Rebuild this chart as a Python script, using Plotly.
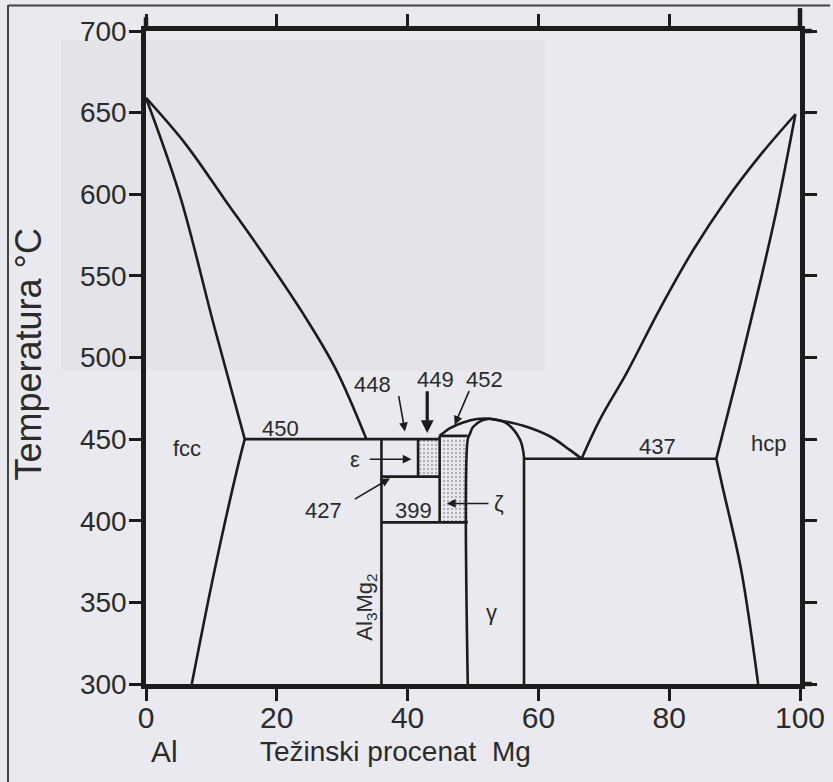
import plotly.graph_objects as go

# ---------------- data (wt% Mg, temperature degC) ----------------
left_liquidus_x = [0, 6, 12, 18, 24, 29, 33.7]
left_liquidus_t = [659, 631, 597, 563, 527, 493, 450]

left_solidus_x = [0, 5.2, 10.3, 15.1]
left_solidus_t = [659, 599, 521, 450]

left_solvus_x = [15.1, 13.9, 10.5, 7.0]
left_solvus_t = [450, 431, 370, 300]

eutectic450_x = [15.1, 44.9]
eutectic450_t = [450, 450]

al3mg2_x = [36.0, 36.0]
al3mg2_t = [450, 300]

eps_right_x = [41.6, 41.6]
eps_right_t = [450, 427]

line427_x = [36.0, 44.9]
line427_t = [427, 427]

zeta_left_x = [44.9, 44.9]
zeta_left_t = [452, 399]

zeta_top_x = [44.9, 49.2]
zeta_top_t = [452, 452]

line399_x = [36.0, 49.2]
line399_t = [399, 399]

gamma_left_x = [49.2, 49.2, 49.5, 50.0, 51.3, 52.6]
gamma_left_t = [300, 450, 453, 457.4, 461.3, 462.5]

gamma_liq_left_x = [44.9, 46.5, 48.5, 50.6, 52.6]
gamma_liq_left_t = [452, 456.8, 460.2, 462.3, 462.5]

gamma_right_x = [52.6, 55.1, 57.2, 57.8]
gamma_right_t = [462.5, 459.8, 449.6, 439]

gamma_right_vert_x = [57.8, 57.8]
gamma_right_vert_t = [439, 300]

gamma_liq_right_x = [52.6, 57.7, 61.8, 64.8, 66.6]
gamma_liq_right_t = [462.5, 458.2, 451.6, 443.4, 438]

eutectic437_x = [57.8, 87.2]
eutectic437_t = [438, 438]

right_liquidus_x = [66.6, 69.4, 73.5, 78.6, 83.7, 88.8, 93.9, 99.3]
right_liquidus_t = [438, 462, 490.6, 530, 566, 597, 623.8, 649]

right_solidus_x = [87.2, 90.8, 93.9, 96.4, 99.3]
right_solidus_t = [438, 494.6, 546, 590, 649]

right_solvus_x = [87.2, 88.2, 91.0, 93.6]
right_solvus_t = [438, 420, 370, 300]

eps_box_x = [41.6, 44.9, 44.9, 41.6, 41.6]
eps_box_t = [450, 450, 427, 427, 450]

zeta_box_x = [44.9, 49.2, 49.2, 44.9, 44.9]
zeta_box_t = [452, 452, 399, 399, 452]

label_text = ["450", "448", "449", "452", "fcc", "hcp", "437", "\u03b5", "427", "399",
              "\u03b6", "\u03b3"]
label_x = [20.5, 34.7, 44.2, 51.8, 6.3, 95.2, 78.2, 32.0, 27.1, 40.9, 53.9, 52.8]
label_t = [456.5, 483.4, 486.6, 486.6, 444.5, 447.5, 445.5, 437.3, 406.5, 406.5, 410.6, 344]

arrow_head_x = [39.6, 43.0, 47.2, 40.6, 37.3, 46.0]
arrow_head_t = [454.7, 453.7, 458.8, 437.7, 426.0, 410.6]
arrow_tail_x = [38.6, 43.0, 49.5, 34.0, 31.7, 52.6]
arrow_tail_t = [477.3, 480.3, 480.3, 437.7, 412.7, 410.6]
arrow_width = [1.6, 3.2, 1.6, 1.6, 1.6, 1.6]

x_ticks = [0, 20, 40, 60, 80, 100]
y_ticks = [300, 350, 400, 450, 500, 550, 600, 650, 700]

# ---------------- styling ----------------
LINE = "#1c1c1c"
TXT = "#2b2b2b"
BG = "#e9e9ef"
FONT = "Liberation Sans, Arial, sans-serif"

fig = go.Figure()

# stippled phase boxes
for bx, bt in [(eps_box_x, eps_box_t), (zeta_box_x, zeta_box_t)]:
    fig.add_trace(go.Scatter(
        x=bx, y=bt, mode="lines", fill="toself", line=dict(width=0),
        fillcolor="rgba(0,0,0,0)",
        fillpattern=dict(shape=".", fgcolor="#707070", bgcolor="rgba(0,0,0,0)",
                         size=4, solidity=0.25),
        hoverinfo="skip", showlegend=False))

curves = [
    (left_liquidus_x, left_liquidus_t, "spline"),
    (left_solidus_x, left_solidus_t, "spline"),
    (left_solvus_x, left_solvus_t, "spline"),
    (eutectic450_x, eutectic450_t, "linear"),
    (al3mg2_x, al3mg2_t, "linear"),
    (eps_right_x, eps_right_t, "linear"),
    (line427_x, line427_t, "linear"),
    (zeta_left_x, zeta_left_t, "linear"),
    (zeta_top_x, zeta_top_t, "linear"),
    (line399_x, line399_t, "linear"),
    (gamma_left_x, gamma_left_t, "spline"),
    (gamma_liq_left_x, gamma_liq_left_t, "spline"),
    (gamma_right_x, gamma_right_t, "spline"),
    (gamma_right_vert_x, gamma_right_vert_t, "linear"),
    (gamma_liq_right_x, gamma_liq_right_t, "spline"),
    (eutectic437_x, eutectic437_t, "linear"),
    (right_liquidus_x, right_liquidus_t, "spline"),
    (right_solidus_x, right_solidus_t, "spline"),
    (right_solvus_x, right_solvus_t, "spline"),
]
for cx, ct, shp in curves:
    fig.add_trace(go.Scatter(x=cx, y=ct, mode="lines",
                             line=dict(color=LINE, width=2.6, shape=shp),
                             hoverinfo="skip", showlegend=False))

annotations = []
for t, lx, lt in zip(label_text, label_x, label_t):
    annotations.append(dict(x=lx, y=lt, xref="x", yref="y", text=t, showarrow=False,
                            xanchor="center", yanchor="middle",
                            font=dict(family=FONT, size=22, color=TXT)))
annotations.append(dict(x=33.7, y=347, xref="x", yref="y",
                        text="Al<sub>3</sub>Mg<sub>2</sub>", textangle=-90,
                        xanchor="center", yanchor="middle",
                        showarrow=False, font=dict(family=FONT, size=22, color=TXT)))
for hx, ht, tx, tt, w in zip(arrow_head_x, arrow_head_t, arrow_tail_x, arrow_tail_t, arrow_width):
    annotations.append(dict(x=hx, y=ht, xref="x", yref="y", ax=tx, ay=tt,
                            axref="x", ayref="y", text="", showarrow=True,
                            arrowhead=2, arrowsize=1.1 if w < 2 else 0.8,
                            arrowwidth=w, arrowcolor=LINE))
# axis titles
annotations.append(dict(x=-0.18, y=0.505, xref="paper", yref="paper",
                        xanchor="center", yanchor="middle",
                        text="Temperatura \u00b0C", textangle=-90, showarrow=False,
                        font=dict(family=FONT, size=36, color=TXT)))
annotations.append(dict(x=0.029, y=-0.104, xref="paper", yref="paper", text="Al",
                        xanchor="center", yanchor="middle",
                        showarrow=False, font=dict(family=FONT, size=30, color=TXT)))
annotations.append(dict(x=0.381, y=-0.104, xref="paper", yref="paper",
                        xanchor="center", yanchor="middle",
                        text="Te\u017einski procenat  Mg", showarrow=False,
                        font=dict(family=FONT, size=28, color=TXT)))

AX = dict(color=LINE, width=4.5)
shapes = [
    # slightly darker scanned area (upper-left)
    dict(type="rect", xref="paper", yref="paper", x0=-0.13, x1=0.61, y0=0.48, y1=0.985,
         fillcolor="rgba(120,120,135,0.05)", line=dict(width=0), layer="below"),
    # scan border
    dict(type="line", xref="paper", yref="paper", x0=-0.211, x1=-0.211, y0=-0.2, y1=1.04,
         line=dict(color="#444", width=2)),
    dict(type="line", xref="paper", yref="paper", x0=-0.211, x1=1.046, y0=1.039, y1=1.039,
         line=dict(color="#444", width=2)),
    # frame lines running past the corners, as in the drawing
    dict(type="line", xref="paper", yref="paper", x0=0, x1=0, y0=1, y1=1.021, line=AX),
    dict(type="line", xref="paper", yref="paper", x0=1, x1=1, y0=1, y1=1.035, line=AX),
    dict(type="line", xref="paper", yref="paper", x0=1, x1=1.018, y0=0, y1=0, line=AX),
    dict(type="line", xref="paper", yref="paper", x0=1, x1=1.018, y0=1, y1=1, line=AX),
]

axis_common = dict(showline=True, linecolor=LINE, linewidth=4.5, mirror="allticks",
                   ticks="outside", ticklen=12, tickwidth=2.5, tickcolor=LINE,
                   showgrid=False, zeroline=False, fixedrange=True)

fig.update_layout(
    width=833, height=782,
    margin=dict(l=146, r=33, t=31, b=98, autoexpand=False),
    paper_bgcolor=BG, plot_bgcolor=BG,
    showlegend=False,
    xaxis=dict(range=[0, 100], tickvals=x_ticks, automargin=False,
               ticklabelstandoff=-9,
               tickfont=dict(family=FONT, size=30, color=TXT), **axis_common),
    yaxis=dict(range=[300, 700], tickvals=y_ticks, automargin=False,
               ticklabelstandoff=-3,
               tickfont=dict(family=FONT, size=28, color=TXT), **axis_common),
    annotations=annotations,
    shapes=shapes,
)

fig.write_html("out.html", config={"displayModeBar": False},
               post_script="document.body.style.margin='0';document.body.style.overflow='hidden';")
